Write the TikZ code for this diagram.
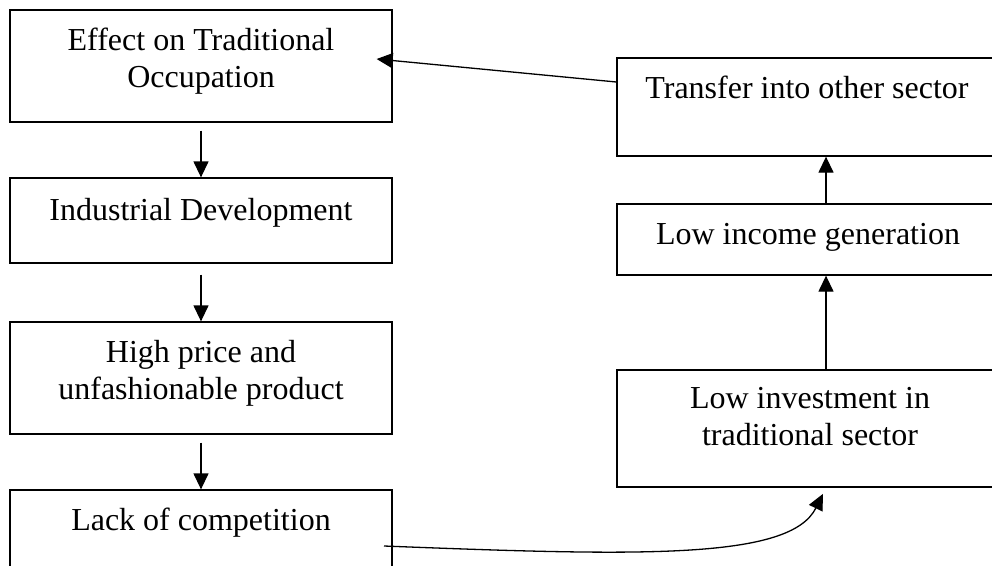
\documentclass[tikz,border=0pt]{standalone}
\usepackage{fontspec}
\setmainfont{Liberation Serif}
\usetikzlibrary{arrows.meta}

\tikzset{
  box/.style={draw, line width=1.3, minimum width=382, inner sep=0},
  txt/.style={align=center, inner sep=0, font=\fontsize{32}{37}\selectfont},
  arr/.style={-{Triangle[length=16, width=15]}, line width=1.3},
}

\begin{document}
\begin{tikzpicture}[x=1pt, y=-1pt]
    \clip (0,0) rectangle (992,565);

    % Draw boxes for the left column
    \node[box, minimum height=112] (occ) at (201,66) {};
    \node[box, minimum height=85] (ind) at (201,220.5) {};
    \node[box, minimum height=112] (price) at (201,378) {};
    \node[box, minimum height=150] (comp) at (201,565) {};

    % Texts for the left column
    \node[txt] (occtxt) at (201,61) {Effect on Traditional\\Occupation};
    \node[txt] (indtxt) at (201,212.5) {Industrial Development};
    \node[txt] (pricetxt) at (201,373.5) {High price and\\unfashionable product};
    \node[txt] (comptxt) at (201,522.5) {Lack of competition};

    % Draw boxes for the right column
    \node[box, minimum height=98] (transfer) at (808,107) {};
    \node[box, minimum height=71] (income) at (808,239.5) {};
    \node[box, minimum height=117] (invest) at (808,428.5) {};

    % Texts for the right column
    \node[txt] (transfertxt) at (807,87) {Transfer into other sector};
    \node[txt] (incometxt) at (808,237.5) {Low income generation};
    \node[txt] (investtxt) at (810,417) {Low investment in\\traditional sector};

    % Arrows down the left column
    \draw[arr, shorten <=8] (occ) -- (ind);
    \draw[arr, shorten <=11] (ind) -- (price);
    \draw[arr, shorten <=8] (price) -- (comp);

    % Arrows up the right column
    \draw[arr] ([xshift=18]invest.north) -- ([xshift=18]income.south);
    \draw[arr] ([xshift=18]income.north) -- ([xshift=18]transfer.south);

    % Arrows closing the loop
    \coordinate (cstart) at (384,546);
    \draw[arr, shorten >=7] (cstart) .. controls (640,556) and (790,560) .. ([xshift=18]invest.south);
    \draw[arr] ([yshift=25]transfer.west) -- ([xshift=-16,yshift=7]occ.east);
\end{tikzpicture}
\end{document}
